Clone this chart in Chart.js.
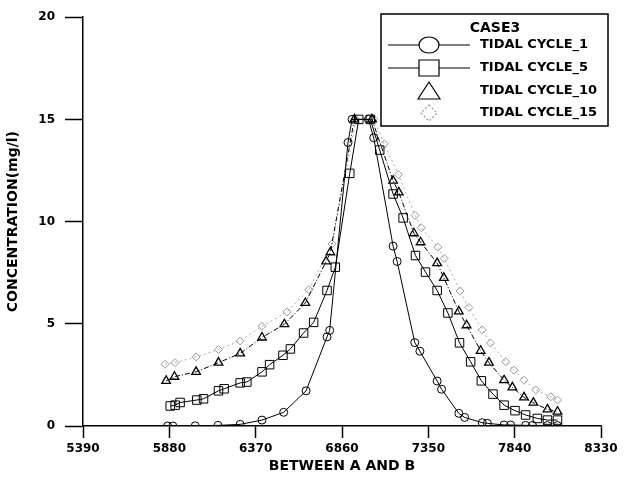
<!DOCTYPE html>
<html>
<head>
<meta charset="utf-8">
<script src="https://cdn.jsdelivr.net/npm/chart.js@4.4.1/dist/chart.umd.min.js"></script>
<style>
    body { margin: 0; background: #fff; }
    #wrap { width: 627px; height: 478px; }
</style>
</head>
<body>
<div id="wrap"><canvas id="tidalChart"></canvas></div>
<script>

const xTickValues = [5390, 5880, 6370, 6860, 7350, 7840, 8330]
const yTickValues = [0, 5, 10, 15, 20]

const legendTitle = "CASE3"
const seriesNames = ["TIDAL CYCLE_1", "TIDAL CYCLE_5", "TIDAL CYCLE_10", "TIDAL CYCLE_15"]

const cycle1X = [5870, 5900, 6027, 6156, 6282, 6406, 6529, 6656, 6775, 6790, 6894, 6917, 7010, 7040, 7150, 7173, 7273, 7302, 7400, 7425, 7523, 7556, 7656, 7685, 7780, 7817, 7902, 7941, 8026, 8083]
const cycle1Y = [0, 0, 0.01, 0.03, 0.08, 0.29, 0.67, 1.72, 4.36, 4.68, 13.87, 15, 15, 14.1, 8.8, 8.05, 4.08, 3.66, 2.2, 1.8, 0.62, 0.42, 0.16, 0.13, 0.05, 0.05, 0.03, 0.03, 0.02, 0.02]

const cycle5X = [5885, 5913, 5941, 6036, 6074, 6159, 6191, 6282, 6320, 6406, 6449, 6525, 6567, 6642, 6699, 6775, 6822, 6904, 6955, 7021, 7074, 7150, 7207, 7277, 7334, 7400, 7461, 7527, 7590, 7651, 7717, 7780, 7842, 7902, 7969, 8026, 8083]
const cycle5Y = [0.98, 1.02, 1.15, 1.27, 1.33, 1.72, 1.82, 2.11, 2.15, 2.65, 3.0, 3.46, 3.77, 4.55, 5.07, 6.63, 7.77, 12.36, 15, 15, 13.5, 11.35, 10.18, 8.34, 7.53, 6.63, 5.53, 4.07, 3.14, 2.21, 1.56, 1.02, 0.75, 0.54, 0.37, 0.29, 0.29]

const cycle10X = [5862, 5909, 6032, 6159, 6282, 6406, 6533, 6652, 6770, 6794, 6930, 7030, 7150, 7182, 7268, 7306, 7400, 7438, 7523, 7567, 7647, 7694, 7780, 7827, 7893, 7946, 8026, 8083]
const cycle10Y = [2.21, 2.41, 2.65, 3.1, 3.55, 4.33, 4.98, 6.02, 8.05, 8.5, 15, 15, 12.0, 11.43, 9.43, 8.99, 7.97, 7.25, 5.61, 4.93, 3.68, 3.1, 2.24, 1.89, 1.4, 1.14, 0.81, 0.7]

const cycle15X = [5856, 5913, 6032, 6159, 6282, 6406, 6548, 6671, 6803, 6940, 7040, 7100, 7180, 7275, 7310, 7404, 7440, 7530, 7580, 7656, 7703, 7789, 7836, 7893, 7960, 8045, 8083]
const cycle15Y = [3.02, 3.1, 3.38, 3.74, 4.16, 4.88, 5.58, 6.67, 8.91, 15, 15, 13.8, 12.3, 10.3, 9.7, 8.75, 8.2, 6.6, 5.8, 4.7, 4.06, 3.14, 2.73, 2.24, 1.76, 1.43, 1.27]

const FONT = "'DejaVu Sans', 'Liberation Sans', Arial, sans-serif"

function toPoints(xs, ys) {
    return xs.map((x, i) => ({ x: x, y: ys[i] }))
}

// legend drawn by hand: boxed, title on top, big markers with line
const legendBox = {
    id: "legendBox",
    afterDraw(chart) {
        const ctx = chart.ctx
        ctx.save()

        ctx.fillStyle = "#fff"
        ctx.strokeStyle = "#000"
        ctx.lineWidth = 1.5
        ctx.fillRect(381, 14, 227, 112)
        ctx.strokeRect(381, 14, 227, 112)

        ctx.fillStyle = "#000"
        ctx.font = "bold 14px " + FONT
        ctx.textAlign = "center"
        ctx.textBaseline = "middle"
        ctx.fillText(legendTitle, 495, 28)

        const rowsY = [45, 68, 91, 113]
        const cx = 429

        rowsY.forEach((y, i) => {
            ctx.setLineDash([])
            ctx.strokeStyle = "#000"
            ctx.lineWidth = 1.2

            if (i < 2) {
                ctx.beginPath()
                ctx.moveTo(388, y)
                ctx.lineTo(470, y)
                ctx.stroke()
            }

            ctx.beginPath()
            if (i === 0) {
                ctx.ellipse(cx, y, 10, 8, 0, 0, Math.PI * 2)
            } else if (i === 1) {
                ctx.rect(cx - 10, y - 8, 20, 16)
            } else if (i === 2) {
                ctx.moveTo(cx, y - 9)
                ctx.lineTo(cx + 11, y + 8)
                ctx.lineTo(cx - 11, y + 8)
                ctx.closePath()
            } else {
                ctx.strokeStyle = "#999"
                ctx.setLineDash([2, 2])
                ctx.moveTo(cx, y - 8)
                ctx.lineTo(cx + 8, y)
                ctx.lineTo(cx, y + 8)
                ctx.lineTo(cx - 8, y)
                ctx.closePath()
            }
            ctx.fillStyle = "#fff"
            ctx.fill()
            ctx.stroke()

            ctx.setLineDash([])
            ctx.fillStyle = "#000"
            ctx.font = "bold 13px " + FONT
            ctx.textAlign = "left"
            ctx.fillText(seriesNames[i], 480, y)
        })

        ctx.restore()
    }
}

new Chart(
    document.getElementById("tidalChart"),
    {
        type: "line",

        data: {
            datasets: [
                {
                    label: seriesNames[0],
                    data: toPoints(cycle1X, cycle1Y),
                    borderColor: "#000",
                    borderWidth: 1,
                    pointStyle: "circle",
                    pointRadius: 4,
                    pointBorderColor: "#000",
                    pointBackgroundColor: "rgba(0,0,0,0)",
                    pointBorderWidth: 1
                },
                {
                    label: seriesNames[1],
                    data: toPoints(cycle5X, cycle5Y),
                    borderColor: "#000",
                    borderWidth: 1,
                    pointStyle: "rect",
                    pointRadius: 6,
                    pointBorderColor: "#000",
                    pointBackgroundColor: "rgba(0,0,0,0)",
                    pointBorderWidth: 1
                },
                {
                    label: seriesNames[2],
                    data: toPoints(cycle10X, cycle10Y),
                    borderColor: "#000",
                    borderWidth: 1,
                    borderDash: [5, 2, 1, 2],
                    pointStyle: "triangle",
                    pointRadius: 5,
                    pointBorderColor: "#000",
                    pointBackgroundColor: "rgba(0,0,0,0)",
                    pointBorderWidth: 1.3
                },
                {
                    label: seriesNames[3],
                    data: toPoints(cycle15X, cycle15Y),
                    borderColor: "#aaa",
                    borderWidth: 1,
                    borderDash: [2, 3],
                    pointStyle: "rectRot",
                    pointRadius: 4,
                    pointBorderColor: "#999",
                    pointBackgroundColor: "rgba(0,0,0,0)",
                    pointBorderWidth: 1
                }
            ]
        },

        options: {
            responsive: true,
            maintainAspectRatio: false,
            animation: false,
            layout: {
                padding: { top: 15, right: 26, bottom: 0, left: 0 }
            },
            plugins: {
                legend: { display: false },
                tooltip: { enabled: false }
            },
            scales: {
                x: {
                    type: "linear",
                    min: 5390,
                    max: 8330,
                    afterBuildTicks: scale => {
                        scale.ticks = xTickValues.map(v => ({ value: v }))
                    },
                    afterFit: scale => {
                        scale.height = 52
                    },
                    ticks: {
                        color: "#000",
                        padding: 4,
                        maxRotation: 0,
                        autoSkip: false,
                        font: { family: FONT, weight: "bold", size: 12 },
                        callback: v => String(v)
                    },
                    grid: {
                        drawOnChartArea: false,
                        tickLength: 12,
                        tickColor: "#000",
                        tickWidth: 1.5
                    },
                    border: { color: "#000", width: 1.5 },
                    title: {
                        display: true,
                        text: "BETWEEN A AND B",
                        color: "#000",
                        font: { family: FONT, weight: "bold", size: 14 },
                        padding: { top: 0, bottom: 3 }
                    }
                },
                y: {
                    min: 0,
                    max: 20,
                    afterBuildTicks: scale => {
                        scale.ticks = yTickValues.map(v => ({ value: v }))
                    },
                    afterFit: scale => {
                        scale.width = 83
                    },
                    ticks: {
                        color: "#000",
                        padding: 10,
                        font: { family: FONT, weight: "bold", size: 12 },
                        callback: v => String(v)
                    },
                    grid: {
                        drawOnChartArea: false,
                        tickLength: 18,
                        tickColor: "#000",
                        tickWidth: 1.5
                    },
                    border: { color: "#000", width: 1.5 },
                    title: {
                        display: true,
                        text: "CONCENTRATION(mg/l)",
                        color: "#000",
                        font: { family: FONT, weight: "bold", size: 14 },
                        padding: { top: 5, bottom: 0 }
                    }
                }
            }
        },

        plugins: [legendBox]
    }
)
</script>
</body>
</html>
